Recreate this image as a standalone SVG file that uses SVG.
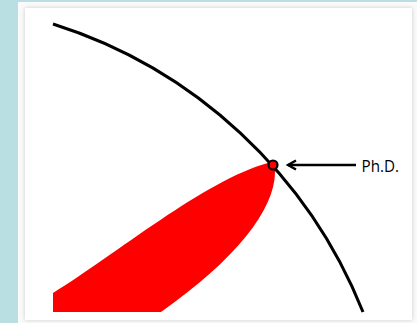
<svg xmlns="http://www.w3.org/2000/svg" width="417" height="323" viewBox="0 0 417 323">
  <defs>
    <filter id="shadow" x="-5%" y="-5%" width="110%" height="110%">
      <feDropShadow dx="0" dy="0" stdDeviation="2" flood-color="#000" flood-opacity="0.18"/>
    </filter>
    <marker id="arrowhead" markerWidth="12" markerHeight="12" refX="10" refY="6" orient="auto" markerUnits="userSpaceOnUse">
      <path d="M2,1.5 L10,6 L2,10.5" fill="none" stroke="#000" stroke-width="2.4" stroke-linejoin="miter"/>
    </marker>
  </defs>
  <style>
    .arc { fill: none; stroke: #000; stroke-width: 3; }
    .conn { stroke: #000; stroke-width: 2.4; fill: none; }
  </style>
  <rect x="0" y="0" width="417" height="323" fill="#b9dfe2"/>
  <rect x="18" y="2" width="399" height="321" fill="#fafafa"/>
  <rect x="25" y="8" width="387" height="312" fill="#fff" filter="url(#shadow)"/>

  <g id="knowledge">
    <path d="M53,293 C115,255 205,180 268,163 Q278,161 275,172 C275,210 235,260 161,312 L53,312 Z" fill="#ff0000"/>
  </g>
  <g id="boundary">
    <path class="arc" d="M53,24 A493.4,493.4 0 0 1 363,312"/>
  </g>
  <g id="phd-dot">
    <circle cx="273" cy="165" r="4.5" fill="#ff0000" stroke="#000" stroke-width="2.2"/>
  </g>
  <g id="connectors">
    <line class="conn" x1="356" y1="165" x2="288" y2="165" marker-end="url(#arrowhead)"/>
  </g>
  <g id="phd-label">
    <text x="361.5" y="171.5" font-family="'Open Sans', 'Liberation Sans', sans-serif" font-size="15.5" fill="#000" textLength="37.5" lengthAdjust="spacingAndGlyphs">Ph.D.</text>
  </g>
</svg>
